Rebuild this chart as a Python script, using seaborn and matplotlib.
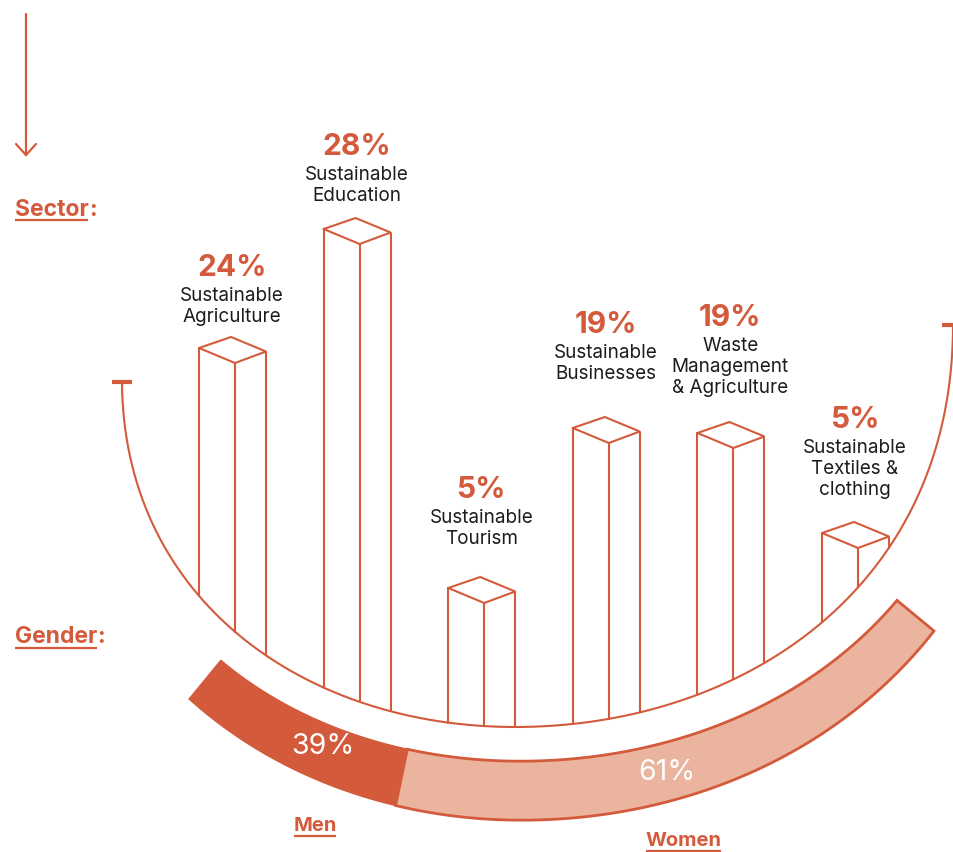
import numpy as np
import matplotlib
matplotlib.use("Agg")
import matplotlib.pyplot as plt
import seaborn as sns
from matplotlib.patches import Polygon

# ---------------- data ----------------
sector_names = ["Sustainable\nAgriculture", "Sustainable\nEducation", "Sustainable\nTourism",
                "Sustainable\nBusinesses", "Waste\nManagement\n& Agriculture",
                "Sustainable\nTextiles &\nclothing"]
sector_share = [24, 28, 5, 19, 19, 5]
gender_names = ["Men", "Women"]
gender_share = [39, 61]

# ---------------- layout (pixels, infographic not to scale) ----------------
bar_top_px = [348, 229, 588, 428, 433, 533]
label_y_px = [268, 147, 490, 325, 318, 420]

ORANGE = "#D45A3C"
LIGHT = "#EBB49E"
DARK = "#1c1c1c"

sns.set_theme(style="white")
plt.rcParams['font.family'] = ['Inter', 'DejaVu Sans']

W, H = 954, 852
fig = plt.figure(figsize=(W / 100, H / 100), dpi=100)
ax = fig.add_axes([0, 0, 1, 1])
ax.set_xlim(0, W)
ax.set_ylim(H, 0)
ax.axis("off")

# ---------------- base curve ----------------
seg1 = np.array([(122, 383), (124, 600), (305, 727), (515, 727)], float)
seg2 = np.array([(515, 727), (740, 727), (953, 590), (953, 325)], float)


def bez(P, t):
    t = np.asarray(t)[:, None]
    return ((1 - t) ** 3) * P[0] + 3 * ((1 - t) ** 2) * t * P[1] + 3 * (1 - t) * t ** 2 * P[2] + t ** 3 * P[3]


def dbez(P, t):
    t = np.asarray(t)[:, None]
    return 3 * ((1 - t) ** 2 * (P[1] - P[0]) + 2 * (1 - t) * t * (P[2] - P[1]) + t ** 2 * (P[3] - P[2]))


def curve(u):
    u = np.asarray(u, float)
    pts = np.zeros((len(u), 2))
    der = np.zeros((len(u), 2))
    m1 = u <= 1
    pts[m1] = bez(seg1, u[m1]); der[m1] = dbez(seg1, u[m1])
    pts[~m1] = bez(seg2, u[~m1] - 1); der[~m1] = dbez(seg2, u[~m1] - 1)
    return pts, der


uu = np.linspace(0, 2, 1200)
cp, _ = curve(uu)
ax.plot(cp[:, 0], cp[:, 1], color=ORANGE, lw=1.5, solid_capstyle="butt", zorder=3)
ax.plot([112, 132], [382, 382], color=ORANGE, lw=3, solid_capstyle="butt")
ax.plot([942, 956], [325, 325], color=ORANGE, lw=3, solid_capstyle="butt")


def arc_y(x):
    return float(np.interp(x, cp[:, 0], cp[:, 1]))


# ---------------- bars ----------------
for i, (name, val) in enumerate(zip(sector_names, sector_share)):
    xl = 199 + 124.6 * i
    xm, xr = xl + 36, xl + 67
    yt = bar_top_px[i]
    top = [(xl, yt), (xl + 32, yt - 11), (xr, yt + 3.5), (xm, yt + 15), (xl, yt)]
    ax.plot([p[0] for p in top], [p[1] for p in top], color=ORANGE, lw=1.5,
            solid_joinstyle="miter", zorder=4)
    for x0, y0 in [(xl, yt), (xm, yt + 15), (xr, yt + 3.5)]:
        ax.plot([x0, x0], [y0, arc_y(x0)], color=ORANGE, lw=1.5, zorder=4)
    cx = xl + 33
    ly = label_y_px[i]
    ax.text(cx, ly, f"{val}%", ha="center", va="center", color=ORANGE,
            fontsize=21.5, fontweight="bold")
    for k, line in enumerate(name.split("\n")):
        ax.text(cx, ly + 28 + 21 * k, line, ha="center", va="center", color=DARK,
                fontsize=13.6)

# ---------------- gender band ----------------
u_start, u_split, u_end = 0.5, 0.835, 1.61


def band(u0, u1):
    u = np.linspace(u0, u1, 300)
    p, d = curve(u)
    n = np.stack([-d[:, 1], d[:, 0]], axis=1)
    n /= np.linalg.norm(n, axis=1)[:, None]
    s = (u - u_start) / (u_end - u_start)
    g = 31 + 7 * s
    w = 50 - 2 * s + 10 * np.sin(np.pi * s)
    inner = p + g[:, None] * n
    outer = p + (g + w)[:, None] * n
    return np.vstack([inner, outer[::-1]])


ax.add_patch(Polygon(band(u_start, u_split), closed=True, facecolor=ORANGE,
                     edgecolor=ORANGE, lw=1.0, zorder=5))
ax.add_patch(Polygon(band(u_split, u_end), closed=True, facecolor=LIGHT,
                     edgecolor=ORANGE, lw=2.0, joinstyle="miter", zorder=5))
ax.add_patch(Polygon(band(u_start, u_split), closed=True, facecolor=ORANGE,
                     edgecolor="none", zorder=6))

ax.text(323, 746, f"{gender_share[0]}%", ha="center", va="center", color="white",
        fontsize=20.5, zorder=7)
ax.text(667, 772, f"{gender_share[1]}%", ha="center", va="center", color="white",
        fontsize=20.5, zorder=7)

# ---------------- headings ----------------
ax.plot([26, 26], [14, 155], color=ORANGE, lw=1.6)
ax.plot([16, 26, 36], [144, 155, 144], color=ORANGE, lw=1.6, solid_joinstyle="miter")

fig.canvas.draw()
rend = fig.canvas.get_renderer()
inv = ax.transData.inverted()


def underlined(x, y, word, suffix, fs, uy, ha="left"):
    t = ax.text(x, y, word, ha=ha, va="center", color=ORANGE, fontsize=fs,
                fontweight="bold")
    bb = t.get_window_extent(rend)
    (x0, _), (x1, _) = inv.transform([[bb.x0, bb.y0], [bb.x1, bb.y1]])
    ax.plot([x0 + 0.5, x1 - 0.5], [uy, uy], color=ORANGE, lw=1.6, solid_capstyle="butt")
    if suffix:
        ax.text(x1, y, suffix, ha="left", va="center", color=ORANGE, fontsize=fs,
                fontweight="bold")


underlined(15, 210, "Sector", ":", 16.5, 220)
underlined(15, 637, "Gender", ":", 16.5, 648)
underlined(315, 826, gender_names[0], "", 14.5, 836, ha="center")
underlined(684, 841, gender_names[1], "", 14.5, 851, ha="center")

fig.savefig("out.png", dpi=100, facecolor="white")
